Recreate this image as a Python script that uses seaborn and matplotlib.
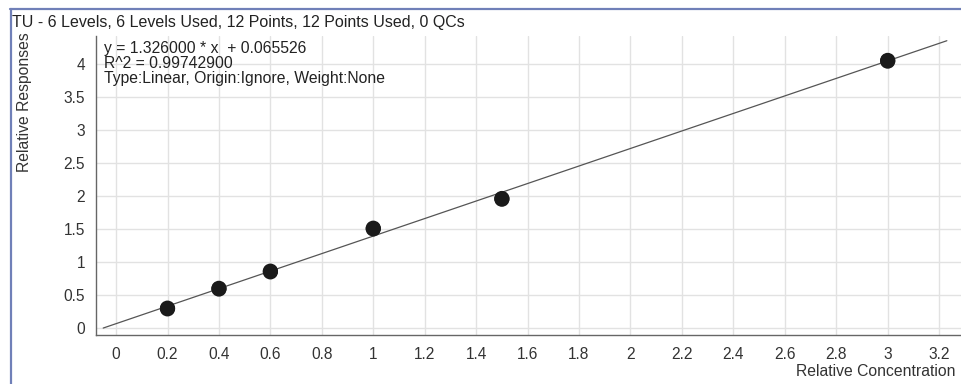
import numpy as np
import pandas as pd
import matplotlib
matplotlib.use("Agg")
import matplotlib.pyplot as plt
from matplotlib.lines import Line2D
import seaborn as sns

# calibration points (duplicates overlap)
conc = [0.2, 0.2, 0.4, 0.4, 0.6, 0.6, 1.0, 1.0, 1.5, 1.5, 3.0, 3.0]
resp = [0.29, 0.30, 0.59, 0.60, 0.85, 0.86, 1.50, 1.51, 1.95, 1.96, 4.05, 4.04]

slope = 1.326000
intercept = 0.065526
fit_x = [-0.05, 3.23]

title = "TU - 6 Levels, 6 Levels Used, 12 Points, 12 Points Used, 0 QCs"
info = ["y = 1.326000 * x  + 0.065526",
        "R^2 = 0.99742900",
        "Type:Linear, Origin:Ignore, Weight:None"]

sns.set_style("white")
plt.rcParams['font.family'] = ['Liberation Sans', 'DejaVu Sans']

pts = pd.DataFrame({"x": conc, "y": resp})
fit = pd.DataFrame({"x": fit_x, "y": [slope * v + intercept for v in fit_x]})

W, H = 961, 384
fig = plt.figure(figsize=(9.61, 3.84), dpi=100)
ax = fig.add_axes([96 / W, 1 - 335 / H, 1 - 96 / W, (335 - 36) / H])

sns.lineplot(data=fit, x="x", y="y", ax=ax, color="#555555", linewidth=0.9)
sns.scatterplot(data=pts, x="x", y="y", ax=ax, color="#1a1a1a", s=120,
                edgecolor="none", zorder=3)

ax.set_xlim(-0.078, 3.285)
ax.set_ylim(-0.106, 4.42)
xt = np.arange(0, 3.21, 0.2)
ax.set_xticks(xt)
ax.set_xticklabels(["%g" % round(v, 1) for v in xt])
yt = np.arange(0, 4.01, 0.5)
ax.set_yticks(yt)
ax.set_yticklabels(["%g" % v for v in yt])
ax.grid(True, color="#e2e2e2", linewidth=1)
ax.set_axisbelow(True)
for s in ["top", "right"]:
    ax.spines[s].set_visible(False)
for s in ["left", "bottom"]:
    ax.spines[s].set_color("#666666")
    ax.spines[s].set_linewidth(1)
ax.tick_params(axis="both", direction="out", length=6, width=1, color="#666666",
               labelsize=11.2, labelcolor="#333333")
ax.tick_params(axis="y", pad=2)
ax.tick_params(axis="x", pad=2.5)
ax.set_xlabel("")
ax.set_ylabel("")

fig.text(955 / W, 1 - 372 / H, "Relative Concentration", fontsize=11.3,
         color="#333333", ha="right", va="center")
fig.text(25 / W, 1 - 32 / H, "Relative Responses", fontsize=11.3,
         color="#333333", ha="center", va="top", rotation=90)

for i, line in enumerate(info):
    fig.text(104 / W, 1 - (48 + 15 * i) / H, line, fontsize=11.3,
             color="#222222", va="center", ha="left")

fig.text(12 / W, 1 - 23 / H, title, fontsize=11.5, color="#222222",
         va="center", ha="left")

# blue frame around the panel
fig.add_artist(Line2D([10 / W, 1], [1 - 8.5 / H, 1 - 8.5 / H],
                      transform=fig.transFigure, color="#7080b8", linewidth=1.6))
fig.add_artist(Line2D([10.5 / W, 10.5 / W], [0, 1 - 8.5 / H],
                      transform=fig.transFigure, color="#7080b8", linewidth=1.6))

fig.savefig("out.png", dpi=100)
